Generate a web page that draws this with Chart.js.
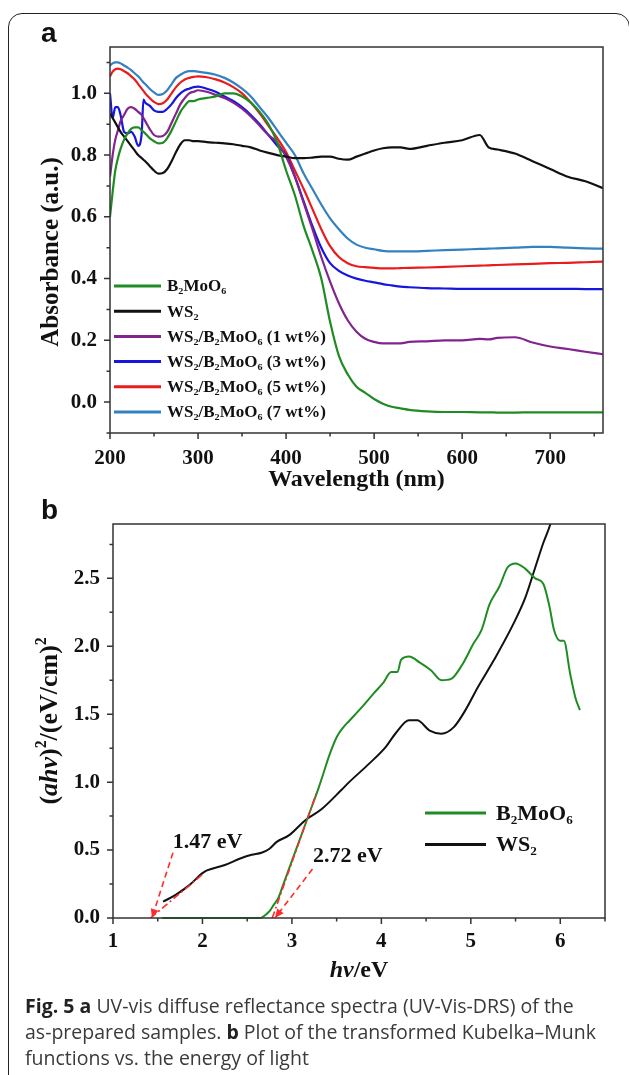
<!DOCTYPE html>
<html>
<head>
<meta charset="utf-8">
<script src="https://cdn.jsdelivr.net/npm/chart.js@4.4.1/dist/chart.umd.min.js"></script>
<style>
  html, body { margin: 0; padding: 0; background: #fff; }
  body { width: 629px; height: 1075px; position: relative; overflow: hidden; }
  .frame { position: absolute; left: 8px; top: 13px; width: 622px; height: 1090px;
           border: 1.5px solid #222; border-radius: 14px; box-sizing: border-box; }
  #wrapA { position: absolute; left: 0; top: 0; }
  #wrapB { position: absolute; left: 0; top: 490px; }
  .panel { position: absolute; left: 41px; font: bold 28px "Liberation Sans", Arial, sans-serif; color: #111; }
  .caption { position: absolute; left: 25px; top: 993px; white-space: nowrap;
             font: 19.5px "Open Sans", sans-serif; line-height: 26.2px; color: #3a3a3a; }
  .caption b { font-weight: 700; color: #222; }
</style>
</head>
<body>
<div class="frame"></div>
<div id="wrapA"><canvas id="chartA" width="629" height="500"></canvas></div>
<div id="wrapB"><canvas id="chartB" width="629" height="510"></canvas></div>
<div class="panel" style="top:17px">a</div>
<div class="panel" style="top:494px">b</div>
<div class="caption"><b>Fig. 5</b> <b>a</b> UV-vis diffuse reflectance spectra (UV-Vis-DRS) of the<br>as-prepared samples. <b>b</b> Plot of the transformed Kubelka–Munk<br>functions vs. the energy of light</div>

<script>
// ---- panel a : UV-vis DRS ----
const wavelength = [200,203,206,209,212,216,220,224,228,232,236,238,240,245,250,255,260,265,270,275,280,285,290,295,300,310,320,330,340,350,360,370,380,390,400,410,420,430,440,450,460,470,480,490,500,510,520,530,540,560,580,600,620,630,640,660,680,700,720,740,760];
const absB2MoO6 = [0.60,0.68,0.75,0.79,0.82,0.85,0.87,0.885,0.89,0.89,0.88,0.875,0.87,0.855,0.845,0.838,0.84,0.855,0.88,0.91,0.94,0.96,0.975,0.975,0.98,0.985,0.99,1.0,1.0,0.99,0.97,0.94,0.9,0.84,0.75,0.67,0.57,0.49,0.4,0.26,0.15,0.09,0.05,0.03,0.01,-0.005,-0.015,-0.02,-0.025,-0.03,-0.032,-0.032,-0.033,-0.033,-0.034,-0.034,-0.033,-0.033,-0.033,-0.033,-0.033];
const absWS2 = [0.935,0.92,0.905,0.89,0.875,0.86,0.845,0.83,0.815,0.8,0.79,0.785,0.78,0.765,0.75,0.74,0.742,0.755,0.78,0.81,0.835,0.848,0.848,0.845,0.845,0.842,0.84,0.838,0.835,0.83,0.825,0.815,0.807,0.8,0.795,0.79,0.79,0.792,0.795,0.795,0.788,0.785,0.795,0.805,0.815,0.822,0.825,0.825,0.82,0.83,0.84,0.848,0.865,0.825,0.818,0.805,0.78,0.755,0.73,0.715,0.693];
const absWS2_1 = [0.73,0.8,0.85,0.88,0.91,0.93,0.95,0.955,0.95,0.94,0.93,0.92,0.91,0.885,0.865,0.86,0.862,0.875,0.905,0.935,0.965,0.985,1.0,1.005,1.01,1.005,0.995,0.985,0.97,0.95,0.925,0.895,0.865,0.84,0.795,0.73,0.645,0.56,0.47,0.39,0.32,0.265,0.228,0.205,0.195,0.19,0.19,0.19,0.195,0.197,0.2,0.2,0.205,0.203,0.208,0.21,0.193,0.18,0.172,0.163,0.155];
const absWS2_3 = [1.0,0.92,0.955,0.955,0.93,0.875,0.87,0.875,0.86,0.83,0.87,0.98,0.97,0.96,0.945,0.94,0.94,0.95,0.965,0.985,1.0,1.01,1.015,1.02,1.022,1.015,1.005,0.99,0.975,0.955,0.93,0.9,0.865,0.83,0.8,0.73,0.65,0.57,0.5,0.45,0.425,0.41,0.4,0.393,0.388,0.382,0.378,0.374,0.372,0.369,0.368,0.367,0.367,0.367,0.367,0.367,0.367,0.367,0.367,0.366,0.366];
const absWS2_5 = [1.055,1.07,1.078,1.08,1.078,1.072,1.065,1.055,1.045,1.03,1.015,1.008,1.0,0.985,0.972,0.965,0.968,0.98,1.0,1.02,1.035,1.045,1.05,1.053,1.055,1.052,1.045,1.035,1.02,1.0,0.97,0.935,0.895,0.855,0.81,0.75,0.69,0.625,0.56,0.505,0.47,0.45,0.44,0.437,0.435,0.433,0.433,0.434,0.435,0.436,0.438,0.44,0.442,0.443,0.444,0.446,0.448,0.45,0.451,0.453,0.455];
const absWS2_7 = [1.09,1.097,1.1,1.1,1.097,1.09,1.083,1.075,1.065,1.055,1.042,1.035,1.03,1.015,1.003,0.995,0.998,1.01,1.03,1.05,1.06,1.068,1.072,1.072,1.07,1.066,1.06,1.05,1.035,1.015,0.99,0.955,0.92,0.88,0.84,0.8,0.74,0.69,0.64,0.595,0.56,0.53,0.51,0.5,0.495,0.49,0.488,0.488,0.488,0.49,0.492,0.494,0.496,0.497,0.498,0.5,0.503,0.503,0.5,0.498,0.497];
const seriesA = ['B₂MoO₆', 'WS₂', 'WS₂/B₂MoO₆ (1 wt%)', 'WS₂/B₂MoO₆ (3 wt%)', 'WS₂/B₂MoO₆ (5 wt%)', 'WS₂/B₂MoO₆ (7 wt%)'];
const colorsA = ['#1f8c23', '#111111', '#82248e', '#1616dc', '#e81c1c', '#3381c0'];
const xTicksA = [200, 300, 400, 500, 600, 700];
const yTicksA = [0.0, 0.2, 0.4, 0.6, 0.8, 1.0];

// ---- panel b : Kubelka-Munk ----
const energyB2MoO6 = [1.55,1.8,2.0,2.2,2.4,2.6,2.65,2.7,2.75,2.8,2.85,2.9,3.0,3.1,3.2,3.3,3.35,3.42,3.5,3.57,3.64,3.78,3.91,4.02,4.11,4.18,4.22,4.31,4.43,4.56,4.67,4.78,4.9,5.03,5.12,5.21,5.32,5.41,5.5,5.61,5.72,5.81,5.88,5.93,6.0,6.04,6.11,6.17,6.22];
const khmB2MoO6 = [0,0,0,0,0,0,0,0.02,0.05,0.1,0.15,0.24,0.42,0.6,0.78,0.96,1.06,1.2,1.33,1.4,1.45,1.55,1.65,1.73,1.81,1.81,1.9,1.925,1.88,1.82,1.75,1.76,1.86,2.02,2.12,2.31,2.44,2.58,2.61,2.57,2.5,2.46,2.29,2.12,2.04,2.04,1.8,1.62,1.53];
const energyWS2 = [1.56,1.7,1.85,2.0,2.05,2.25,2.43,2.55,2.66,2.75,2.83,2.97,3.15,3.33,3.55,3.64,3.87,4.05,4.16,4.31,4.4,4.54,4.67,4.81,4.94,5.08,5.26,5.48,5.61,5.72,5.81,5.89,5.95];
const khmWS2 = [0.12,0.17,0.24,0.33,0.35,0.39,0.44,0.465,0.48,0.51,0.56,0.61,0.72,0.8,0.94,1.0,1.14,1.26,1.36,1.455,1.455,1.38,1.357,1.405,1.53,1.7,1.9,2.17,2.36,2.58,2.76,2.9,3.05];
const seriesB = ['B₂MoO₆', 'WS₂'];
const colorsB = ['#1f8c23', '#111111'];
const tangentWS2E = [1.42, 2.0], tangentWS2Y = [0, 0.32];
const tangentB2E = [2.78, 3.28], tangentB2Y = [0, 0.93];
const arrowWS2E = [1.67, 1.435], arrowWS2Y = [0.48, 0];
const arrowB2E = [3.23, 2.81], arrowB2Y = [0.36, 0];
const gapLabels = ['1.47 eV', '2.72 eV'];
const gapLabelE = [1.667, 3.235];
const gapLabelY = [0.557, 0.454];
const xTicksB = [1, 2, 3, 4, 5, 6];
const yTicksB = [0, 0.5, 1.0, 1.5, 2.0, 2.5];

const SERIF = '"Liberation Serif", "Times New Roman", serif';
Chart.defaults.font.family = SERIF;
Chart.defaults.color = '#111';

function pts(xs, ys) { return xs.map((x, i) => ({ x: x, y: ys[i] })); }

function drawRich(ctx, segs, cx, cy, rot) {
  ctx.save();
  ctx.translate(cx, cy);
  ctx.rotate(rot || 0);
  ctx.textBaseline = 'middle';
  ctx.textAlign = 'left';
  let w = 0;
  segs.forEach(s => { ctx.font = s.f; w += ctx.measureText(s.t).width; });
  let x = -w / 2;
  segs.forEach(s => { ctx.font = s.f; ctx.fillText(s.t, x, s.dy || 0); x += ctx.measureText(s.t).width; });
  ctx.restore();
}

// box around the plot, outward major + minor ticks, axis titles, legend, notes
const decor = {
  id: 'decor',
  afterDraw(chart, args, o) {
    const ctx = chart.ctx, a = chart.chartArea, x = chart.scales.x, y = chart.scales.y;
    ctx.save();
    ctx.strokeStyle = '#333';
    ctx.lineWidth = 1.5;
    ctx.strokeRect(a.left, a.top, a.right - a.left, a.bottom - a.top);
    ctx.beginPath();
    let n = Math.floor((x.max - o.xFrom) / o.xMinor + 1e-6);
    for (let i = 0; i <= n; i++) {
      const v = o.xFrom + i * o.xMinor;
      const major = Math.abs(v / o.xMajor - Math.round(v / o.xMajor)) < 1e-6;
      const px = x.getPixelForValue(v);
      ctx.moveTo(px, a.bottom); ctx.lineTo(px, a.bottom + (major ? 6 : 3.5));
    }
    n = Math.floor((y.max - o.yFrom) / o.yMinor + 1e-6);
    for (let i = 0; i <= n; i++) {
      const v = o.yFrom + i * o.yMinor;
      const major = Math.abs(v / o.yMajor - Math.round(v / o.yMajor)) < 1e-6;
      const py = y.getPixelForValue(v);
      ctx.moveTo(a.left, py); ctx.lineTo(a.left - (major ? 6 : 3.5), py);
    }
    ctx.stroke();

    // axis titles
    ctx.fillStyle = '#111';
    drawRich(ctx, o.xTitle, (a.left + a.right) / 2, a.bottom + o.xTitleGap, 0);
    drawRich(ctx, o.yTitle, o.yTitleX, (a.top + a.bottom) / 2 + o.yTitleShift, -Math.PI / 2);

    // legend
    const lg = o.legend;
    lg.items.forEach((di, k) => {
      const ds = chart.data.datasets[di];
      const ly = a.top + lg.top + k * lg.step;
      ctx.strokeStyle = ds.borderColor;
      ctx.lineWidth = 3;
      ctx.beginPath();
      ctx.moveTo(lg.x0, ly); ctx.lineTo(lg.x1, ly);
      ctx.stroke();
      ctx.fillStyle = '#111';
      ctx.font = lg.font;
      ctx.textAlign = 'left';
      ctx.textBaseline = 'middle';
      ctx.fillText(ds.label, lg.x1 + lg.gap, ly + 1);
    });

    // arrow heads on flagged datasets
    chart.data.datasets.forEach((ds, i) => {
      if (!ds.arrow) return;
      const pe = chart.getDatasetMeta(i).data;
      const p1 = pe[pe.length - 2], p2 = pe[pe.length - 1];
      const ang = Math.atan2(p2.y - p1.y, p2.x - p1.x);
      ctx.save();
      ctx.translate(p2.x, p2.y);
      ctx.rotate(ang);
      ctx.fillStyle = ds.borderColor;
      ctx.beginPath();
      ctx.moveTo(0, 0); ctx.lineTo(-9, -4); ctx.lineTo(-9, 4); ctx.closePath();
      ctx.fill();
      ctx.restore();
    });

    // gap labels
    if (o.notes) {
      ctx.fillStyle = '#111';
      ctx.font = o.notes.font;
      ctx.textAlign = 'left';
      ctx.textBaseline = 'middle';
      o.notes.text.forEach((t, i) => {
        ctx.fillText(t, x.getPixelForValue(o.notes.xs[i]), y.getPixelForValue(o.notes.ys[i]));
      });
    }
    ctx.restore();
  }
};

function lineSet(label, xs, ys, color, width, order) {
  return { label: label, data: pts(xs, ys), borderColor: color, backgroundColor: color, order: order || 0,
           borderWidth: width, pointRadius: 0, cubicInterpolationMode: 'monotone', fill: false };
}

function axes(xmin, xmax, ymin, ymax, xt, yt, yfmt, xPad, yPad, yW, xH) {
  return {
    x: { type: 'linear', min: xmin, max: xmax,
         afterBuildTicks: s => { s.ticks = xt.map(v => ({ value: v })); },
         afterFit: s => { s.height = xH; },
         grid: { display: false, drawTicks: false }, border: { display: false },
         ticks: { padding: xPad, font: { size: 21, weight: 'bold' }, color: '#111', maxRotation: 0,
                  callback: v => String(v) } },
    y: { type: 'linear', min: ymin, max: ymax,
         afterBuildTicks: s => { s.ticks = yt.map(v => ({ value: v })); },
         afterFit: s => { s.width = yW; },
         grid: { display: false, drawTicks: false }, border: { display: false },
         ticks: { padding: yPad, font: { size: 21, weight: 'bold' }, color: '#111',
                  callback: v => Number(v).toFixed(yfmt) } }
  };
}

const dsA = [absB2MoO6, absWS2, absWS2_1, absWS2_3, absWS2_5, absWS2_7]
  .map((ys, i) => lineSet(seriesA[i], wavelength, ys, colorsA[i], 2.2, i));

new Chart(document.getElementById('chartA'), {
  type: 'line',
  data: { datasets: dsA },
  options: {
    responsive: false, animation: false, devicePixelRatio: 1,
    layout: { padding: { top: 47, right: 26, left: 0, bottom: 0 } },
    scales: axes(200, 760, -0.1, 1.15, xTicksA, yTicksA, 1, 13, 13, 110, 67),
    plugins: {
      legend: { display: false }, tooltip: { enabled: false },
      decor: {
        xFrom: 200, xMinor: 50, xMajor: 100, yFrom: -0.1, yMinor: 0.1, yMajor: 0.2,
        xTitle: [{ t: 'Wavelength (nm)', f: 'bold 24px ' + SERIF }], xTitleGap: 47,
        yTitle: [{ t: 'Absorbance (a.u.)', f: 'bold 25px ' + SERIF }], yTitleX: 52, yTitleShift: 12,
        legend: { items: [0, 1, 2, 3, 4, 5], top: 239, step: 25.2, x0: 114, x1: 161, gap: 6,
                  font: 'bold 17px ' + SERIF }
      }
    }
  },
  plugins: [decor]
});

const redDash = '#ff2a2a';
const dsB = [
  lineSet(seriesB[0], energyB2MoO6, khmB2MoO6, colorsB[0], 2, 1),
  lineSet(seriesB[1], energyWS2, khmWS2, colorsB[1], 2, 2),
  Object.assign(lineSet('tangent WS2', tangentWS2E, tangentWS2Y, redDash, 1.6, 0), { borderDash: [7, 3, 2, 3] }),
  Object.assign(lineSet('tangent B2MoO6', tangentB2E, tangentB2Y, redDash, 1.6, 0), { borderDash: [7, 3, 2, 3] }),
  Object.assign(lineSet('arrow WS2', arrowWS2E, arrowWS2Y, redDash, 1.6, 0), { borderDash: [6, 4], arrow: true }),
  Object.assign(lineSet('arrow B2MoO6', arrowB2E, arrowB2Y, redDash, 1.6, 0), { borderDash: [6, 4], arrow: true })
];
dsB.forEach(d => { d.clip = { left: 0, right: 0, top: 0, bottom: 6 }; });

const boldB = 'bold 26px ' + SERIF, italB = 'italic bold 26px ' + SERIF;
new Chart(document.getElementById('chartB'), {
  type: 'line',
  data: { datasets: dsB },
  options: {
    responsive: false, animation: false, devicePixelRatio: 1,
    layout: { padding: { top: 34, right: 24, left: 0, bottom: 0 } },
    scales: axes(1, 6.5, 0, 2.9, xTicksB, yTicksB, 1, 11, 13, 113, 82),
    plugins: {
      legend: { display: false }, tooltip: { enabled: false },
      decor: {
        xFrom: 1, xMinor: 0.5, xMajor: 1, yFrom: 0, yMinor: 0.25, yMajor: 0.5,
        xTitle: [{ t: 'hv', f: 'italic bold 24px ' + SERIF }, { t: '/eV', f: 'bold 24px ' + SERIF }], xTitleGap: 53,
        yTitle: [{ t: '(', f: boldB }, { t: 'ahv', f: italB }, { t: ')', f: boldB }, { t: '²', f: boldB, dy: -4 },
                 { t: '/(eV/cm)', f: boldB }, { t: '²', f: boldB, dy: -4 }], yTitleX: 50, yTitleShift: 0,
        legend: { items: [0, 1], top: 289, step: 31.5, x0: 425, x1: 486, gap: 10,
                  font: 'bold 22px ' + SERIF },
        notes: { text: gapLabels, xs: gapLabelE, ys: gapLabelY, font: 'bold 22px ' + SERIF }
      }
    }
  },
  plugins: [decor]
});
</script>
</body>
</html>
